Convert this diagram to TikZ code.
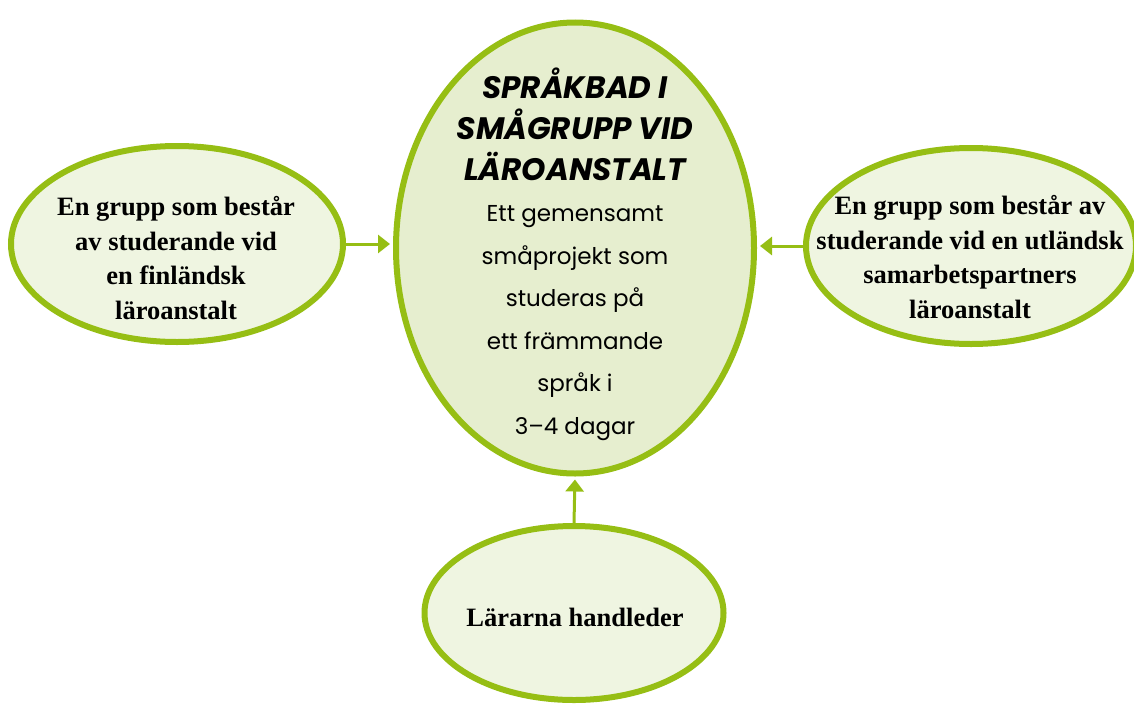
\documentclass[tikz,border=0pt]{standalone}
\usepackage{fontspec}
\setmainfont{Liberation Serif}
\newfontfamily\titlefont{Poppins}
\usetikzlibrary{shapes.geometric,arrows.meta}
\definecolor{lgreen}{RGB}{150,190,20}
\definecolor{cfill}{RGB}{230,238,207}
\definecolor{ofill}{RGB}{239,245,225}
\tikzset{
  oval/.style={ellipse, draw=lgreen, line width=6pt, inner sep=0pt},
  outer/.style={oval, fill=ofill},
  otext/.style={align=center, inner sep=0pt, font=\bfseries\fontsize{26.5}{34.8}\selectfont},
  link/.style={draw=lgreen, line width=3pt, -{Triangle[length=12pt,width=18pt]}, shorten >=3pt}
}
\begin{document}
\begin{tikzpicture}[x=1pt,y=-1pt]
\useasboundingbox (0,0) rectangle (1134,704);
\node[oval, fill=cfill, minimum width=358pt, minimum height=451pt] (c) at (575,248) {};
\node[align=center, inner sep=0pt, font=\titlefont\bfseries\itshape\fontsize{31}{41}\selectfont] (t) at (575,124) {SPRÅKBAD I\\SMÅGRUPP VID\\LÄROANSTALT};
\node[align=center, inner sep=0pt, font=\titlefont\fontsize{23}{42.6}\selectfont] (b) at (575,323) {Ett gemensamt\\småprojekt som\\studeras på\\ett främmande\\språk i\\3–4 dagar};
\node[outer, minimum width=332pt, minimum height=196pt] (l) at (177,244) {};
\node[otext] (lt) at (176,258) {En grupp som består\\av studerande vid\\en finländsk\\läroanstalt};
\node[outer, minimum width=330pt, minimum height=196pt] (r) at (971,246) {};
\node[otext] (rt) at (970,257) {En grupp som består av\\studerande vid en utländsk\\samarbetspartners\\läroanstalt};
\node[outer, minimum width=299pt, minimum height=174pt] (d) at (574,613) {};
\node[otext] (dt) at (575,617) {Lärarna handleder};
\draw[link] (l.east) -- (c.west |- l.east);
\draw[link] (r.west) -- (c.east |- r.west);
\draw[link] (d.north) -- (c.south);
\end{tikzpicture}
\end{document}
